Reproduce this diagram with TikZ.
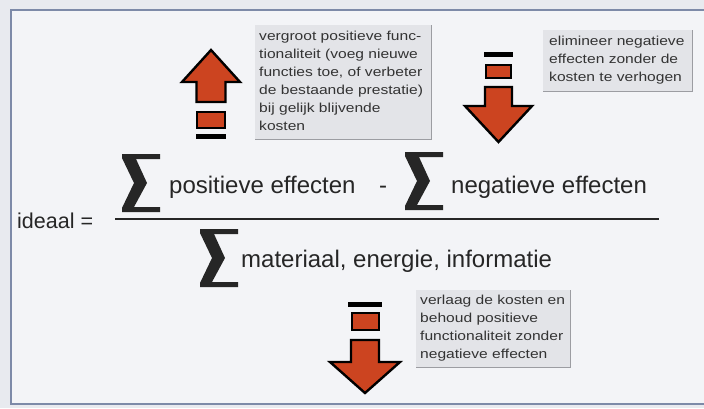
\documentclass[tikz,border=0pt]{standalone}
\usepackage{fontspec}
\setmainfont{Liberation Sans}
\newfontfamily\boxfont[FakeStretch=1.2]{Liberation Sans}
\definecolor{pagebg}{HTML}{E8EAEF}
\definecolor{panelbg}{HTML}{F3F4F7}
\definecolor{framec}{HTML}{7D8AA8}
\definecolor{arrowred}{HTML}{CC4420}
\definecolor{boxgrey}{HTML}{E3E4E8}
\definecolor{boxshadowc}{HTML}{9C9DA2}
\definecolor{boxtextc}{HTML}{333333}
\definecolor{formulac}{HTML}{262626}
\begin{document}
\begin{tikzpicture}[x=1pt,y=-1pt,
  frameline/.style={draw=framec, line width=2pt},
  arrowshape/.style={fill=arrowred, draw=black, line width=2.4pt, line join=miter},
  barshape/.style={fill=black},
  infobox/.style={fill=boxgrey, inner sep=0pt, anchor=north west},
  boxshadow/.style={draw=boxshadowc, line width=1.6pt},
  boxtext/.style={font=\boxfont\fontsize{13}{18}\selectfont, text=boxtextc, align=left, anchor=north west, inner sep=0pt},
  formula/.style={font=\fontsize{24}{29}\selectfont, text=formulac, inner sep=0pt, anchor=base west},
  fracline/.style={draw=formulac, line width=2.5pt},
  sigmasym/.pic={\fill[formulac] (0,0) -- (38,0) -- (38,5) -- (14,5) -- (25,29) -- (12,53) -- (38,53) -- (38,58) -- (0,58) -- (0,54) -- (12,29) -- (0,4) -- cycle;}
]
\useasboundingbox (0,0) rectangle (704,408);
% page and panel
\fill[pagebg] (0,0) rectangle (704,408);
\fill[panelbg] (11,10) rectangle (704,404);
\draw[frameline] (704,10) -- (11,10) -- (11,404) -- (704,404);

% info boxes with drop shadow on right and bottom
\node[infobox, minimum width=176pt, minimum height=114pt] (b1) at (255,25) {};
\draw[boxshadow] (b1.north east) -- (b1.south east) -- (b1.south west);
\node[boxtext] (t1) at ([xshift=4pt,yshift=-6pt]b1.north west)
  {vergroot positieve func-\\tionaliteit (voeg nieuwe\\functies toe, of verbeter\\de bestaande prestatie)\\bij gelijk blijvende\\kosten};

\node[infobox, minimum width=149pt, minimum height=61pt] (b2) at (543,30) {};
\draw[boxshadow] (b2.north east) -- (b2.south east) -- (b2.south west);
\node[boxtext] (t2) at ([xshift=6pt,yshift=-6pt]b2.north west)
  {elimineer negatieve\\effecten zonder de\\kosten te verhogen};

\node[infobox, minimum width=154pt, minimum height=77pt] (b3) at (416,290) {};
\draw[boxshadow] (b3.north east) -- (b3.south east) -- (b3.south west);
\node[boxtext] (t3) at ([xshift=4pt,yshift=-5pt]b3.north west)
  {verlaag de kosten en\\behoud positieve\\functionaliteit zonder\\negatieve effecten};

% up arrow with equals sign
\filldraw[arrowshape] (211,50) -- (240,82) -- (225.5,82) -- (225.5,102) -- (196.5,102) -- (196.5,82) -- (182,82) -- cycle;
\filldraw[arrowshape] (197,112) rectangle (225,128);
\fill[barshape] (196,134) rectangle (226,139);

% down arrow (negative effects)
\fill[barshape] (484,52) rectangle (513,57);
\filldraw[arrowshape] (486,65) rectangle (511,78);
\filldraw[arrowshape] (485,87) -- (512,87) -- (512,106) -- (532,106) -- (498.5,142) -- (465,106) -- (485,106) -- cycle;

% down arrow (costs)
\fill[barshape] (348,302) rectangle (382,307);
\filldraw[arrowshape] (352,313) rectangle (379,330);
\filldraw[arrowshape] (351,340) -- (379,340) -- (379,362) -- (400,362) -- (365,393) -- (330,362) -- (351,362) -- cycle;

% formula
\node[formula, font=\fontsize{21.5}{26}\selectfont] (ideaal) at (17,228) {ideaal =};
\coordinate (fracL) at (115,219);
\coordinate (fracR) at (659,219);
\draw[fracline] (fracL) -- (fracR);
\pic at (122,154) {sigmasym};
\node[formula] (pos) at (169,193) {positieve effecten};
\node[formula] (minus) at (379,193) {-};
\pic at (405,152) {sigmasym};
\node[formula] (neg) at (451,193) {negatieve effecten};
\pic at (200,229) {sigmasym};
\node[formula] (den) at (241,267) {materiaal, energie, informatie};
\end{tikzpicture}
\end{document}
